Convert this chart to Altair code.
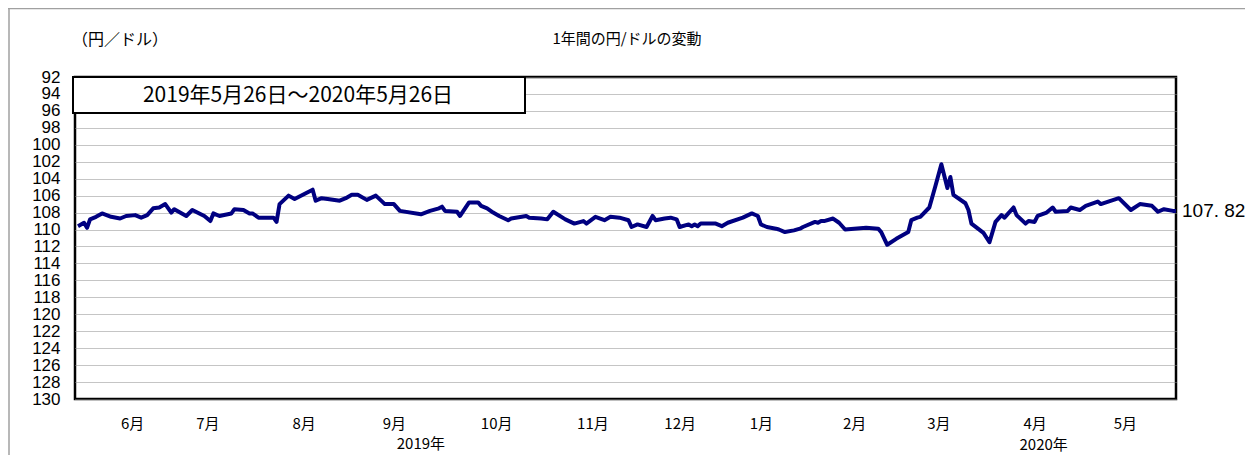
import altair as alt
import pandas as pd

# ---------------- data ----------------
BASE_DATE = "2019-05-26"
END_DATE = "2020-05-26"

# days since 2019-05-26
day_offsets = [
    1, 3, 4, 5, 7, 9, 12, 15, 17, 20, 22, 24, 26, 28, 30, 32, 33, 37, 39, 43,
    45, 46, 48, 52, 53, 56, 58, 59, 61, 66, 67, 68, 71, 73, 79, 80, 82, 84, 88, 90,
    92, 94,
    97, 100, 103, 106, 108, 115, 118, 121, 122, 123, 127, 128, 131, 134, 135, 137, 139, 141,
    144, 145, 150, 151, 155, 157, 159, 163, 166, 169, 170, 173, 176, 178, 181, 184, 185, 187,
    190, 192, 193, 196, 198, 200, 201, 204, 205, 206, 207, 208, 213, 215, 217, 222, 225, 227,
    228, 230, 233, 234, 236, 239, 241, 242, 246, 247, 248, 249, 252, 254, 256, 259, 263, 267,
    268, 270, 273, 277, 278, 280,
    281, 284, 286, 288, 290, 291, 292, 296, 297, 298, 302, 304, 306, 308, 309, 312, 313, 316,
    317, 319, 320, 323, 325, 326, 330, 331, 334, 336, 340, 341, 347, 351, 354, 358, 360, 362,
    365, 366,
]

# yen per dollar
rates = [
    109.6, 109.2, 109.8, 108.8, 108.5, 108.1, 108.5, 108.7, 108.4, 108.3, 108.6, 108.3, 107.5,
    107.4, 107.0, 108.0, 107.6, 108.4, 107.7, 108.4, 109.0, 108.1, 108.4, 108.1, 107.6, 107.7,
    108.1, 108.1, 108.6, 108.6, 109.1, 107.0, 106.0, 106.4, 105.3, 106.6, 106.3, 106.4, 106.6,
    106.3, 105.9, 105.9,
    106.5, 106.0, 107.0, 107.0, 107.8, 108.2, 107.8, 107.5, 107.3, 107.8, 107.9, 108.4, 106.8,
    106.8, 107.2, 107.5, 108.0, 108.4, 108.9, 108.7, 108.4, 108.6, 108.7, 108.8, 107.9, 108.8,
    109.3, 109.0, 109.3, 108.5, 108.9, 108.5, 108.6, 108.9, 109.7, 109.4,
    109.7, 108.4, 108.9, 108.7, 108.6, 108.8, 109.7, 109.4, 109.6, 109.4, 109.6, 109.3, 109.3,
    109.6, 109.2, 108.6, 108.1, 108.4, 109.4, 109.7, 109.9, 110.0, 110.3, 110.1, 109.9, 109.7,
    109.1, 109.2, 109.0, 109.0, 108.7, 109.2, 110.0, 109.9, 109.8, 109.9, 110.3, 111.8, 111.1,
    110.3, 108.9, 108.6,
    108.5, 107.4, 104.9, 102.3, 105.1, 103.8, 105.9, 106.9, 107.7, 109.3, 110.4, 111.5, 109.1,
    108.3, 108.6, 107.4, 108.3, 109.3, 109.0, 109.1, 108.4, 108.0, 107.4, 107.9, 107.8, 107.4,
    107.7, 107.2, 106.7, 107.0, 106.3, 107.7, 107.0, 107.2, 107.9, 107.6, 107.8, 107.82,
]

month_label_dates = [
    "2019-06-14", "2019-07-09", "2019-08-10", "2019-09-09", "2019-10-13", "2019-11-14",
    "2019-12-13", "2020-01-09", "2020-02-09", "2020-03-08", "2020-04-09", "2020-05-09",
]
year_labels = ["2019年", "2020年"]
year_label_dates = ["2019-09-18", "2020-04-12"]

last_rate = 107.82
last_label = "107. 82"
y_ticks = list(range(92, 131, 2))

title_text = "1年間の円/ドルの変動"
unit_text = "（円／ドル）"
period_text = "2019年5月26日～2020年5月26日"

# ---------------- tables ----------------
base = pd.Timestamp(BASE_DATE)
df = pd.DataFrame({
    "date": base + pd.to_timedelta(day_offsets, unit="D"),
    "rate": rates,
})
df_last = pd.DataFrame({"date": [pd.Timestamp(END_DATE)], "rate": [last_rate], "label": [last_label]})
df_year = pd.DataFrame({"date": pd.to_datetime(year_label_dates), "label": year_labels,
                        "row": [0, 1]})
one = pd.DataFrame({"k": [0]})


def dt(s):
    t = pd.Timestamp(s)
    return alt.DateTime(year=t.year, month=t.month, date=t.day)


W, H = 1101, 322
CJK = "Noto Sans CJK JP"
NUM = "Liberation Sans Narrow, Liberation Sans, sans-serif"

x_scale = alt.Scale(domain=[dt(BASE_DATE), dt(END_DATE)])
y_scale = alt.Scale(domain=[92, 130], reverse=True, nice=False, zero=False)

x_axis = alt.Axis(
    values=[dt(s) for s in month_label_dates],
    labelExpr="(month(datum.value)+1) + '月'",
    grid=False, ticks=False, tickSize=0, domain=False,
    labelFont=CJK, labelFontSize=15, labelColor="black",
    labelBaseline="middle", labelPadding=24, labelOverlap=False,
    title=None,
)
x_enc = alt.X("date:T", scale=x_scale, axis=x_axis)
y_enc = alt.Y(
    "rate:Q",
    scale=y_scale,
    axis=alt.Axis(
        values=y_ticks, grid=True, gridColor="#8a8a8a", gridDash=[1, 1], gridWidth=1,
        ticks=False, tickSize=0, domain=False,
        labelFont=NUM, labelFontSize=17, labelColor="black",
        labelPadding=15, labelOverlap=False, labelBound=False, labelFlush=False,
        title=None,
    ),
)

line = alt.Chart(df).mark_line(color="#000080", strokeWidth=4, strokeJoin="round").encode(
    x=x_enc, y=y_enc
)

box = alt.Chart(one).mark_rect(fill="white", stroke="black", strokeWidth=2).encode(
    x=alt.value(-2), x2=alt.value(450), y=alt.value(0), y2=alt.value(36)
)
box_text = alt.Chart(one).mark_text(
    text=period_text, font=CJK, fontSize=21, color="black", align="center", baseline="middle"
).encode(x=alt.value(223), y=alt.value(19))

title = alt.Chart(one).mark_text(
    text=title_text, font=CJK, fontSize=15, color="black", align="center", baseline="middle"
).encode(x=alt.value(552), y=alt.value(-38))
unit = alt.Chart(one).mark_text(
    text=unit_text, font=CJK, fontSize=16, color="black", align="left", baseline="middle"
).encode(x=alt.value(-3), y=alt.value(-37))

last = alt.Chart(df_last).mark_text(
    font="Liberation Sans", fontSize=19, color="black", align="left", baseline="middle", dx=6
).encode(
    x=alt.X("date:T", scale=x_scale, axis=x_axis),
    y=alt.Y("rate:Q", scale=y_scale, axis=None),
    text="label:N",
)

years = alt.Chart(df_year).mark_text(
    font=CJK, fontSize=15, color="black", align="center", baseline="middle"
).encode(
    x=alt.X("date:T", scale=x_scale, axis=x_axis),
    y=alt.Y("row:O", scale=alt.Scale(domain=[0, 1], range=[366, 368]), axis=None),
    text="label:N",
)

frame_top = alt.Chart(one).mark_rule(color="#a0a0a0", strokeWidth=1.5).encode(
    x=alt.value(-67), x2=alt.value(W + 69), y=alt.value(-68.5)
)
frame_left = alt.Chart(one).mark_rule(color="#a0a0a0", strokeWidth=1.5).encode(
    x=alt.value(-66), y=alt.value(-69), y2=alt.value(H + 60)
)

chart = alt.layer(
    frame_top, frame_left, box, box_text, line, title, unit, last, years
).resolve_scale(y="independent").properties(
    width=W, height=H,
    autosize=alt.AutoSizeParams(type="none"),
    padding={"left": 67, "top": 69, "right": 69, "bottom": 56},
    background="white",
).configure_view(
    stroke="black", strokeWidth=2.5
)

chart.save("out.html", embed_options={"renderer": "svg", "actions": False})
